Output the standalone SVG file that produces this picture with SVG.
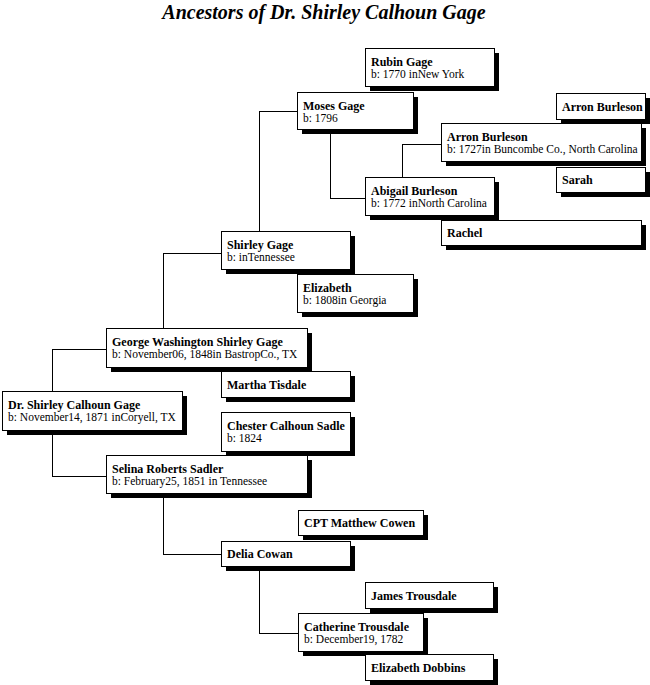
<svg xmlns="http://www.w3.org/2000/svg" width="650" height="685" viewBox="0 0 650 685">
<style>
.sh{fill:#000}
.bx{fill:#fff;stroke:#000;stroke-width:1}
.nm{font-family:"Liberation Serif","Times New Roman",serif;font-weight:bold;font-size:12px;fill:#000}
.dt{font-family:"Liberation Serif","Times New Roman",serif;font-size:11.5px;fill:#000}
.cn{fill:none;stroke:#000;stroke-width:1}
.tt{font-family:"Liberation Serif","Times New Roman",serif;font-weight:bold;font-style:italic;font-size:20px;fill:#000}
</style>
<rect width="650" height="685" fill="#fff"/>
<text class="tt" x="324" y="19" text-anchor="middle">Ancestors of Dr. Shirley Calhoun Gage</text>
<g id="connectors" shape-rendering="crispEdges">
<path class="cn" d="M52.5,391 V349.5 H106"/>
<path class="cn" d="M52.5,430 V476.5 H106"/>
<path class="cn" d="M163.5,328 V253.5 H221"/>
<path class="cn" d="M259.5,231 V111.5 H297"/>
<path class="cn" d="M330.5,129 V198.5 H365"/>
<path class="cn" d="M402.5,177 V144.5 H441"/>
<path class="cn" d="M163.5,493 V554.5 H221"/>
<path class="cn" d="M259.5,566 V633.5 H298"/>
</g>
<g shape-rendering="crispEdges">
<g id="n-rubin"><rect class="sh" x="370" y="53" width="129" height="38"/><rect class="bx" x="365.5" y="48.5" width="129" height="38"/><text class="nm" x="371" y="66">Rubin Gage</text><text class="dt" x="371" y="78">b: 1770 inNew York</text></g>
<g id="n-moses"><rect class="sh" x="302" y="97" width="116" height="37"/><rect class="bx" x="297.5" y="92.5" width="116" height="37"/><text class="nm" x="303" y="110">Moses Gage</text><text class="dt" x="303" y="122">b: 1796</text></g>
<g id="n-arron-sr"><rect class="sh" x="561" y="98" width="89" height="26"/><rect class="bx" x="556.5" y="93.5" width="89" height="26"/><text class="nm" x="562" y="111">Arron Burleson</text></g>
<g id="n-arron"><rect class="sh" x="446" y="128" width="200" height="38"/><rect class="bx" x="441.5" y="123.5" width="200" height="38"/><text class="nm" x="447" y="141">Arron Burleson</text><text class="dt" x="447" y="153">b: 1727in Buncombe Co., North Carolina</text></g>
<g id="n-sarah"><rect class="sh" x="561" y="172" width="89" height="25"/><rect class="bx" x="556.5" y="167.5" width="89" height="25"/><text class="nm" x="562" y="184">Sarah</text></g>
<g id="n-abigail"><rect class="sh" x="370" y="182" width="129" height="38"/><rect class="bx" x="365.5" y="177.5" width="129" height="38"/><text class="nm" x="371" y="195">Abigail Burleson</text><text class="dt" x="371" y="207">b: 1772 inNorth Carolina</text></g>
<g id="n-rachel"><rect class="sh" x="446" y="225" width="200" height="25"/><rect class="bx" x="441.5" y="220.5" width="200" height="25"/><text class="nm" x="447" y="237">Rachel</text></g>
<g id="n-shirley"><rect class="sh" x="226" y="236" width="129" height="38"/><rect class="bx" x="221.5" y="231.5" width="129" height="38"/><text class="nm" x="227" y="249">Shirley Gage</text><text class="dt" x="227" y="261">b: inTennessee</text></g>
<g id="n-elizabeth"><rect class="sh" x="302" y="279" width="116" height="38"/><rect class="bx" x="297.5" y="274.5" width="116" height="38"/><text class="nm" x="303" y="292">Elizabeth</text><text class="dt" x="303" y="304">b: 1808in Georgia</text></g>
<g id="n-george"><rect class="sh" x="111" y="333" width="201" height="39"/><rect class="bx" x="106.5" y="328.5" width="201" height="39"/><text class="nm" x="112" y="346">George Washington Shirley Gage</text><text class="dt" x="112" y="358">b: November06, 1848in BastropCo., TX</text></g>
<g id="n-martha"><rect class="sh" x="226" y="376" width="129" height="26"/><rect class="bx" x="221.5" y="371.5" width="129" height="26"/><text class="nm" x="227" y="389">Martha Tisdale</text></g>
<g id="n-dr-shirley"><rect class="sh" x="7" y="396" width="180" height="39"/><rect class="bx" x="2.5" y="391.5" width="180" height="39"/><text class="nm" x="8" y="409">Dr. Shirley Calhoun Gage</text><text class="dt" x="8" y="421">b: November14, 1871 inCoryell, TX</text></g>
<g id="n-chester"><rect class="sh" x="226" y="417" width="129" height="39"/><rect class="bx" x="221.5" y="412.5" width="129" height="39"/><text class="nm" x="227" y="430">Chester Calhoun Sadle</text><text class="dt" x="227" y="442">b: 1824</text></g>
<g id="n-selina"><rect class="sh" x="111" y="460" width="201" height="38"/><rect class="bx" x="106.5" y="455.5" width="201" height="38"/><text class="nm" x="112" y="473">Selina Roberts Sadler</text><text class="dt" x="112" y="485">b: February25, 1851 in Tennessee</text></g>
<g id="n-matthew"><rect class="sh" x="303" y="515" width="125" height="25"/><rect class="bx" x="298.5" y="510.5" width="125" height="25"/><text class="nm" x="304" y="527">CPT Matthew Cowen</text></g>
<g id="n-delia"><rect class="sh" x="226" y="546" width="129" height="25"/><rect class="bx" x="221.5" y="541.5" width="129" height="25"/><text class="nm" x="227" y="558">Delia Cowan</text></g>
<g id="n-james"><rect class="sh" x="370" y="587" width="128" height="26"/><rect class="bx" x="365.5" y="582.5" width="128" height="26"/><text class="nm" x="371" y="600">James Trousdale</text></g>
<g id="n-catherine"><rect class="sh" x="303" y="618" width="125" height="38"/><rect class="bx" x="298.5" y="613.5" width="125" height="38"/><text class="nm" x="304" y="631">Catherine Trousdale</text><text class="dt" x="304" y="643">b: December19, 1782</text></g>
<g id="n-dobbins"><rect class="sh" x="370" y="659" width="128" height="26"/><rect class="bx" x="365.5" y="654.5" width="128" height="26"/><text class="nm" x="371" y="672">Elizabeth Dobbins</text></g>
</g>
</svg>
